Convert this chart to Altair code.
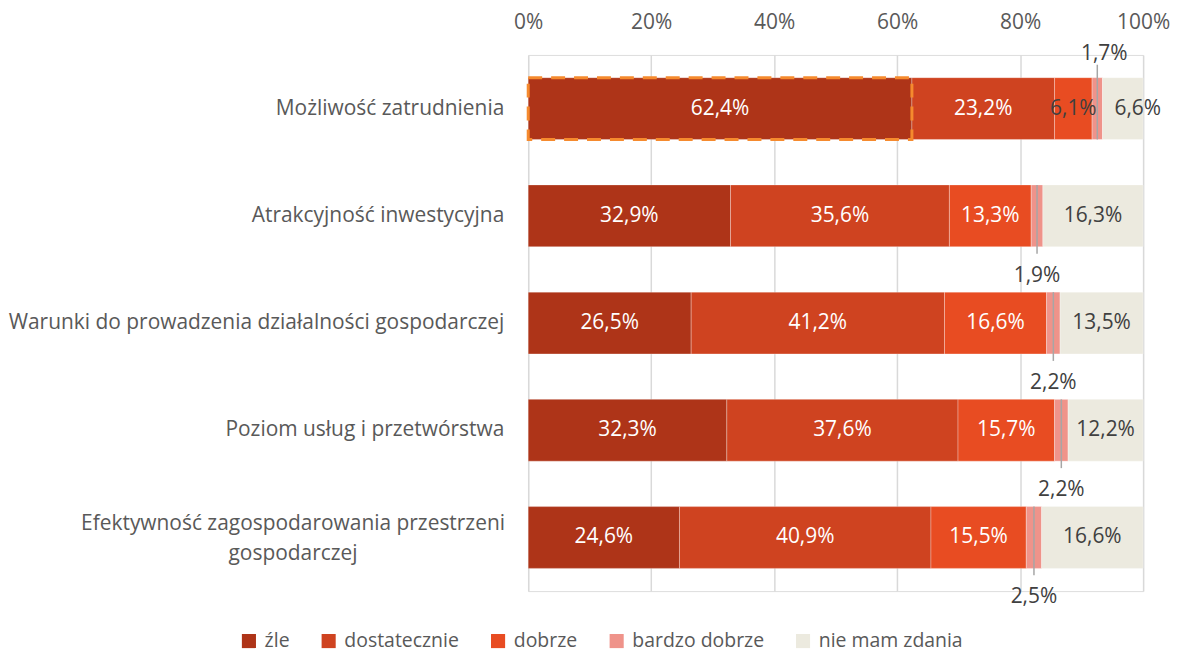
import altair as alt
import pandas as pd

categories = [
    "Możliwość zatrudnienia",
    "Atrakcyjność inwestycyjna",
    "Warunki do prowadzenia działalności gospodarczej",
    "Poziom usług i przetwórstwa",
    "Efektywność zagospodarowania przestrzeni\ngospodarczej",
]
series = ["źle", "dostatecznie", "dobrze", "bardzo dobrze", "nie mam zdania"]
zle = [62.4, 32.9, 26.5, 32.3, 24.6]
dostatecznie = [23.2, 35.6, 41.2, 37.6, 40.9]
dobrze = [6.1, 13.3, 16.6, 15.7, 15.5]
bardzo_dobrze = [1.7, 1.9, 2.2, 2.2, 2.5]
nie_mam_zdania = [6.6, 16.3, 13.5, 12.2, 16.6]
tick_values = [0, 20, 40, 60, 80, 100]

colors = ["#AE3418", "#CF4320", "#E84C22", "#EF938A", "#ECEADF"]
FONT = "Open Sans"
FS = 21
LEG_FS = 19.5
GREY = "#595959"

values = [zle, dostatecznie, dobrze, bardzo_dobrze, nie_mam_zdania]
rows = []
for ci, cat in enumerate(categories):
    cum = 0.0
    for si, s in enumerate(series):
        v = values[si][ci]
        x0, x1 = cum, cum + v
        cum = x1
        light = si >= 3 or v < 8
        rows.append({
            "cat": cat, "ci": ci, "series": s, "si": si, "v": v,
            "x0": x0, "x1": min(x1, 100.0), "mid": (x0 + min(x1, 100.0)) / 2,
            "label": f"{v:.1f}".replace(".", ",") + "%",
            "tcol": "dark" if light else "white",
        })
df = pd.DataFrame(rows)

ysc = alt.Y("cat:N", sort=categories, axis=None,
            scale=alt.Scale(paddingInner=0.42, paddingOuter=0.21))
xsc = alt.Scale(domain=[0, 100], clamp=True)

base = alt.Chart(df)

bars = base.mark_bar(size=62, stroke="white", strokeWidth=0.6, strokeOpacity=0.5).encode(
    x=alt.X("x0:Q", scale=xsc, title=None,
            axis=alt.Axis(orient="top", values=tick_values, labelExpr="datum.value + '%'",
                          grid=True, gridColor="#D9D9D9", gridWidth=1.5, domain=False,
                          ticks=False, labelPadding=23, labelFontSize=FS, labelFlush=False,
                          labelColor=GREY, labelFont=FONT)),
    x2="x1:Q",
    y=ysc,
    color=alt.Color("series:N", scale=alt.Scale(domain=series, range=colors),
                    legend=alt.Legend(title=None, orient="none", direction="horizontal",
                                      legendX=-290, legendY=578, symbolType="square",
                                      symbolSize=200, symbolStrokeWidth=0,
                                      labelFontSize=LEG_FS, labelFont=FONT, labelColor=GREY,
                                      columnPadding=29, labelOffset=6)),
    order=alt.Order("si:Q"),
)

outline = base.transform_filter("datum.ci == 0 && datum.si == 0").mark_bar(
    size=62, fillOpacity=0, stroke="#F58A2E", strokeWidth=3, strokeDash=[14, 9]
).encode(x=alt.X("x0:Q", scale=xsc), x2="x1:Q", y=ysc)

text_color = alt.Color("tcol:N", scale=alt.Scale(domain=["white", "dark"], range=["#FFFFFF", "#404040"]), legend=None)

inner = base.transform_filter("datum.si != 3 && !(datum.ci == 0 && datum.si == 4)").mark_text(
    font=FONT, fontSize=FS, baseline="middle", align="center"
).encode(x=alt.X("mid:Q", scale=xsc), y=ysc, text="label:N", color=text_color)

# first row "nie mam zdania" label sits slightly to the right (as in the reference)
inner_shift = base.transform_filter("datum.ci == 0 && datum.si == 4").mark_text(
    font=FONT, fontSize=FS, baseline="middle", align="center", dx=15
).encode(x=alt.X("mid:Q", scale=xsc), y=ysc, text="label:N", color=text_color)

lead_rule_below = base.transform_filter("datum.si == 3 && datum.ci > 0").mark_rule(
    color="#A6A6A6", strokeWidth=1.5, yOffset=-31, y2Offset=38
).encode(x=alt.X("mid:Q", scale=xsc), y=ysc, y2="cat:N")

lead_text_below = base.transform_filter("datum.si == 3 && datum.ci > 0").mark_text(
    font=FONT, fontSize=FS, color="#404040", dy=60, baseline="middle"
).encode(x=alt.X("mid:Q", scale=xsc), y=ysc, text="label:N")

lead_rule_above = base.transform_filter("datum.si == 3 && datum.ci == 0").mark_rule(
    color="#A6A6A6", strokeWidth=1.5, yOffset=-44, y2Offset=31
).encode(x=alt.X("mid:Q", scale=xsc), y=ysc, y2="cat:N")

lead_text_above = base.transform_filter("datum.si == 3 && datum.ci == 0").mark_text(
    font=FONT, fontSize=FS, color="#404040", dy=-55, dx=7, baseline="middle"
).encode(x=alt.X("mid:Q", scale=xsc), y=ysc, text="label:N")

cat_df = pd.DataFrame({"cat": categories, "ci": list(range(len(categories)))})
ylabels = alt.Chart(cat_df).transform_filter("datum.ci < 4").mark_text(
    font=FONT, fontSize=FS, color=GREY, align="right", baseline="middle"
).encode(x=alt.value(-24), y=ysc, text="cat:N")
ylabel_last = alt.Chart(cat_df).transform_filter("datum.ci == 4").mark_text(
    font=FONT, fontSize=FS, color=GREY, align="center", baseline="middle",
    lineBreak="\n", lineHeight=31, dy=-14
).encode(x=alt.value(-236), y=ysc, text="cat:N")

chart = alt.layer(
    bars, outline, inner, inner_shift, lead_rule_below, lead_text_below,
    lead_rule_above, lead_text_above, ylabels, ylabel_last
).resolve_scale(color="independent").properties(
    width=617, height=538,
    autosize=alt.AutoSizeParams(type="none"),
    padding={"left": 522, "top": 46, "right": 30, "bottom": 64},
).configure_view(stroke=None).configure(font=FONT)

chart.save("out.html", embed_options={"renderer": "svg", "actions": False})
